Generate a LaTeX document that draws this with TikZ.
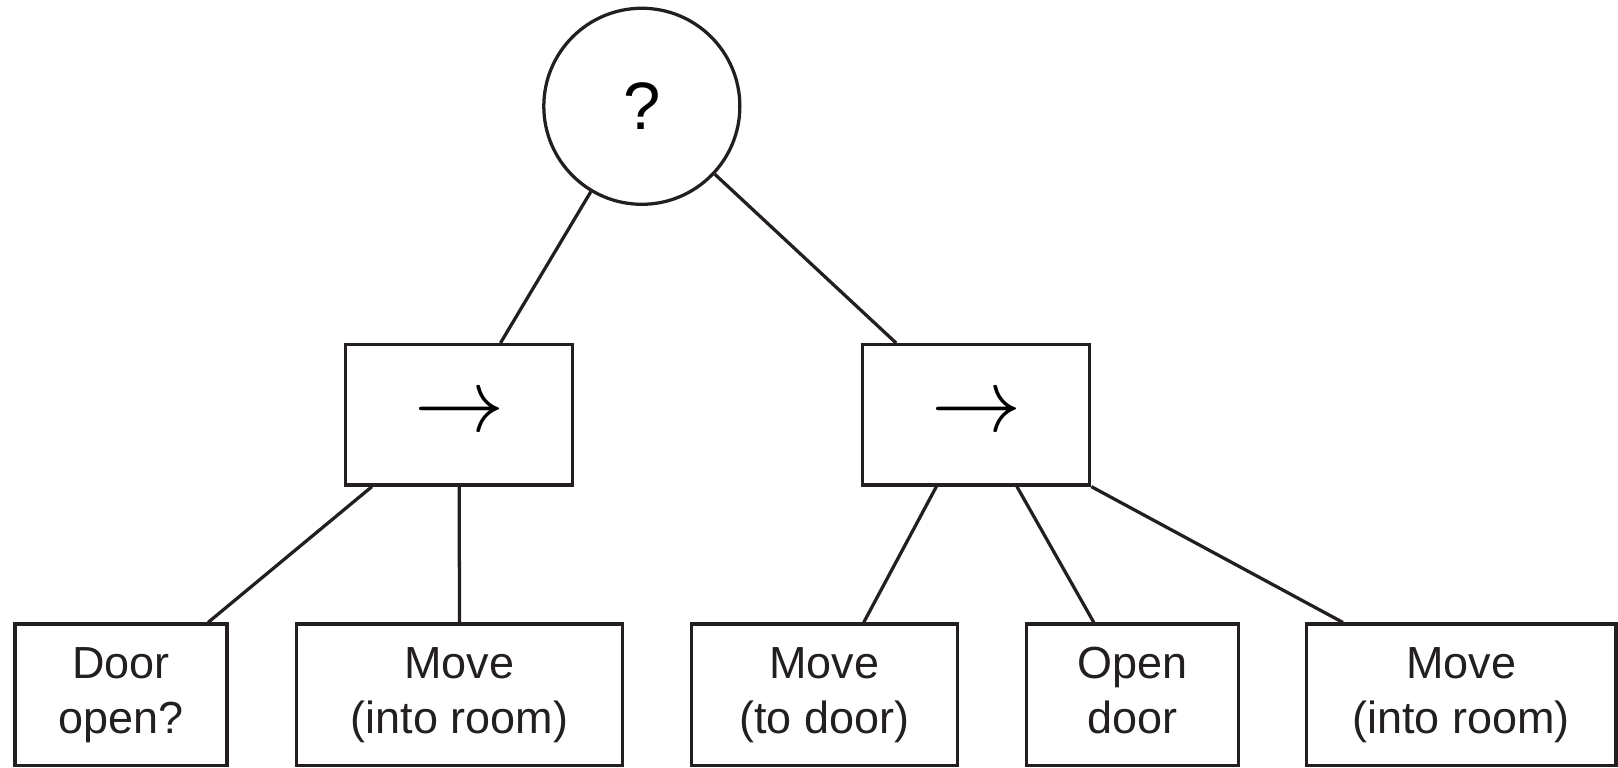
\documentclass[tikz,border=0pt]{standalone}
\usepackage{fontspec}
\setmainfont{Liberation Sans}
\definecolor{treeline}{RGB}{35, 31, 32}
\usepackage{tikz}
\usetikzlibrary{shapes, positioning, calc}
\usepackage{amsmath, amssymb}

\newcommand{\twoline}[2]{#1\strut\\#2\strut}

\tikzset{
  selnode/.style={circle, draw=treeline, line width=0.9pt, minimum size=1.9cm, inner sep=0pt,
    font=\fontsize{18.5}{20}\selectfont},
  seqnode/.style={rectangle, draw=treeline, line width=0.9pt, minimum width=2.2cm, minimum height=1.36cm,
    inner sep=0pt, font=\fontsize{23}{23}\selectfont},
  leafnode/.style={rectangle, draw=treeline, line width=0.9pt, minimum height=1.37cm, inner sep=0pt,
    align=center, font=\fontsize{12.4}{15.2}\selectfont, text=treeline},
  edge/.style={draw=treeline, line width=0.9pt}
}

\begin{document}
\begin{tikzpicture}
  \useasboundingbox (0, 0) rectangle (15.68, 7.433);

  % === root (selector) ===
  \node[selnode] (root) at (6.22, 6.403) {?};

  % === sequences ===
  \node[seqnode] (lseq) at (4.45, 3.413) {$\rightarrow$};
  \node[seqnode] (rseq) at (9.46, 3.413) {$\rightarrow$};

  % === leaves ===
  \node[leafnode, minimum width=2.055cm] (door)  at (1.173, 0.70) {\twoline{Door}{open?}};
  \node[leafnode, minimum width=3.154cm] (movea) at (4.453, 0.70) {\twoline{Move}{(into room)}};
  \node[leafnode, minimum width=2.58cm]  (moveb) at (7.99, 0.70)  {\twoline{Move}{(to door)}};
  \node[leafnode, minimum width=2.05cm]  (open)  at (10.975, 0.70) {\twoline{Open}{door}};
  \node[leafnode, minimum width=3.0cm]   (movec) at (14.16, 0.70) {\twoline{Move}{(into room)}};

  % === edges ===
  \draw[edge] (root) -- ($(lseq.north)+(0.40, 0)$);
  \draw[edge] (root) -- ($(rseq.north west)+(0.34, 0)$);
  \draw[edge] ($(lseq.south west)+(0.27, 0)$) -- ($(door.north east)+(-0.20, 0)$);
  \draw[edge] (lseq.south) -- (movea.north);
  \draw[edge] ($(rseq.south west)+(0.73, 0)$) -- ($(moveb.north)+(0.38, 0)$);
  \draw[edge] ($(rseq.south)+(0.395, 0)$) -- ($(open.north)+(-0.375, 0)$);
  \draw[edge] (rseq.south east) -- ($(movec.north west)+(0.37, 0)$);
\end{tikzpicture}
\end{document}
